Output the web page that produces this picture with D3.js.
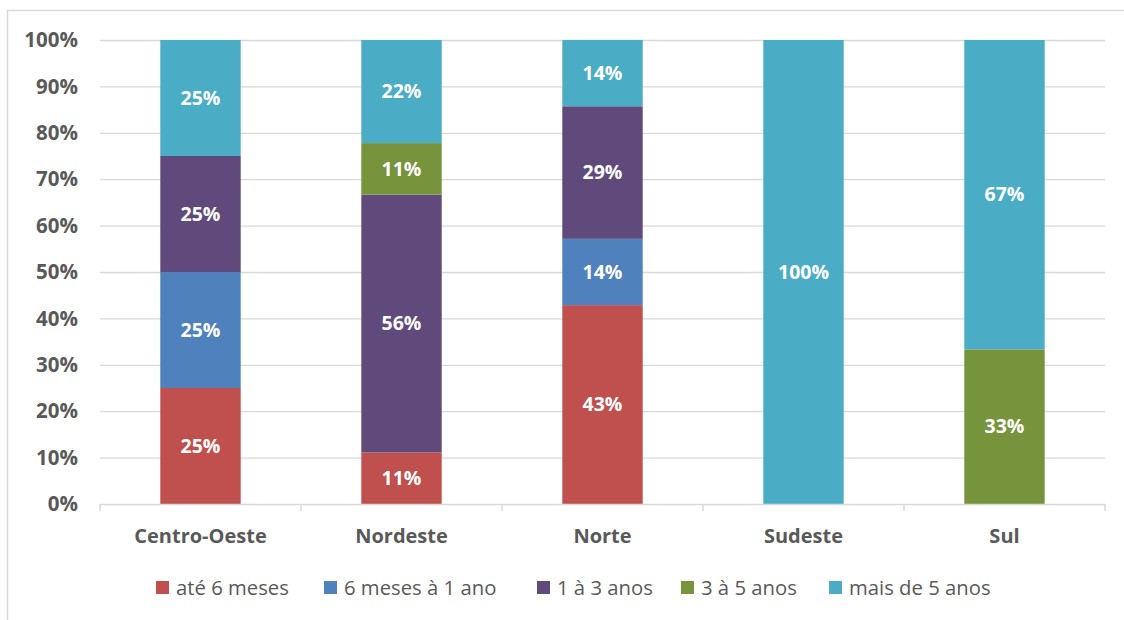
<!DOCTYPE html>
<html><head><meta charset="utf-8">
<script src="https://cdn.jsdelivr.net/npm/d3@7"></script>
<style>body{margin:0;background:#fff}svg{display:block}</style>
</head><body>
<script>
const categories = ["Centro-Oeste","Nordeste","Norte","Sudeste","Sul"];
const seriesNames = ["até 6 meses","6 meses à 1 ano","1 à 3 anos","3 à 5 anos","mais de 5 anos"];
const seriesColors = ["#C0504D","#4F81BD","#604A7B","#77933C","#4BACC6"];
const ate6 = [0.25, 0.1111, 0.4286, 0, 0];
const m6a1 = [0.25, 0, 0.1429, 0, 0];
const a1a3 = [0.25, 0.5556, 0.2857, 0, 0];
const a3a5 = [0, 0.1111, 0, 0, 0.3333];
const mais5 = [0.25, 0.2222, 0.1429, 1, 0.6667];
const yTicks = [0,0.1,0.2,0.3,0.4,0.5,0.6,0.7,0.8,0.9,1];

const seriesVals = [ate6, m6a1, a1a3, a3a5, mais5];
const data = categories.map((c,i)=>{const o={cat:c}; seriesNames.forEach((s,j)=>o[s]=seriesVals[j][i]); return o;});

const W=1124,H=620;
const font = "'Open Sans', sans-serif";
const svg = d3.select("body").append("svg").attr("width",W).attr("height",H).style("font-family",font);
svg.append("rect").attr("x",7.5).attr("y",10.5).attr("width",W+10).attr("height",H+10).attr("fill","none").attr("stroke","#d9d9d9").attr("stroke-width",1.5);

const m={l:100,r:1105,t:40,b:504};
const x=d3.scaleBand().domain(categories).range([m.l,m.r]).paddingInner(0.6).paddingOuter(0.3);
const y=d3.scaleLinear().domain([0,1]).range([m.b,m.t]);

// grid
svg.append("g").selectAll("line").data(yTicks.slice(1)).join("line")
  .attr("x1",m.l).attr("x2",m.r).attr("y1",d=>y(d)+0.5).attr("y2",d=>y(d)+0.5)
  .attr("stroke","#d9d9d9").attr("stroke-width",1.3);

// y labels
svg.append("g").selectAll("text").data(yTicks).join("text")
  .attr("x",78).attr("y",d=>y(d)).attr("dy","0.35em").attr("text-anchor","end")
  .attr("fill","#595959").attr("font-weight","bold").attr("font-size",20.5)
  .text(d=>d3.format(".0%")(d));

const stack=d3.stack().keys(seriesNames)(data);
const g=svg.append("g");
stack.forEach((layer,j)=>{
  g.append("g").selectAll("rect").data(layer).join("rect")
    .attr("x",d=>x(d.data.cat)).attr("width",x.bandwidth())
    .attr("y",d=>y(d[1])).attr("height",d=>y(d[0])-y(d[1]))
    .attr("fill",seriesColors[j]);
  g.append("g").selectAll("text").data(layer.filter(d=>d[1]-d[0]>0)).join("text")
    .attr("x",d=>x(d.data.cat)+x.bandwidth()/2).attr("y",d=>y((d[0]+d[1])/2)).attr("dy","0.35em")
    .attr("text-anchor","middle").attr("fill","#fff").attr("font-weight","bold").attr("font-size",19.5)
    .text(d=>d3.format(".0%")(d[1]-d[0]));
});

// x axis
const step=(m.r-m.l)/categories.length;
svg.append("line").attr("x1",m.l).attr("x2",m.r).attr("y1",m.b+0.5).attr("y2",m.b+0.5).attr("stroke","#d9d9d9").attr("stroke-width",1.5);
svg.append("g").selectAll("line").data(d3.range(categories.length+1)).join("line")
  .attr("x1",i=>m.l+i*step).attr("x2",i=>m.l+i*step).attr("y1",m.b).attr("y2",m.b+7)
  .attr("stroke","#d9d9d9").attr("stroke-width",1.5);
svg.append("g").selectAll("text").data(categories).join("text")
  .attr("x",d=>x(d)+x.bandwidth()/2).attr("y",536).attr("dy","0.35em").attr("text-anchor","middle")
  .attr("fill","#595959").attr("font-weight","bold").attr("font-size",20).text(d=>d);

// legend
const legX=[156,324,537,681,829];
const lg=svg.append("g").selectAll("g").data(seriesNames).join("g").attr("transform",(d,i)=>`translate(${legX[i]},581)`);
lg.append("rect").attr("width",13).attr("height",13).attr("fill",(d,i)=>seriesColors[i]);
lg.append("text").attr("x",20).attr("y",7).attr("dy","0.35em").attr("fill","#595959").attr("font-size",20.3).text(d=>d);
</script>
</body></html>
